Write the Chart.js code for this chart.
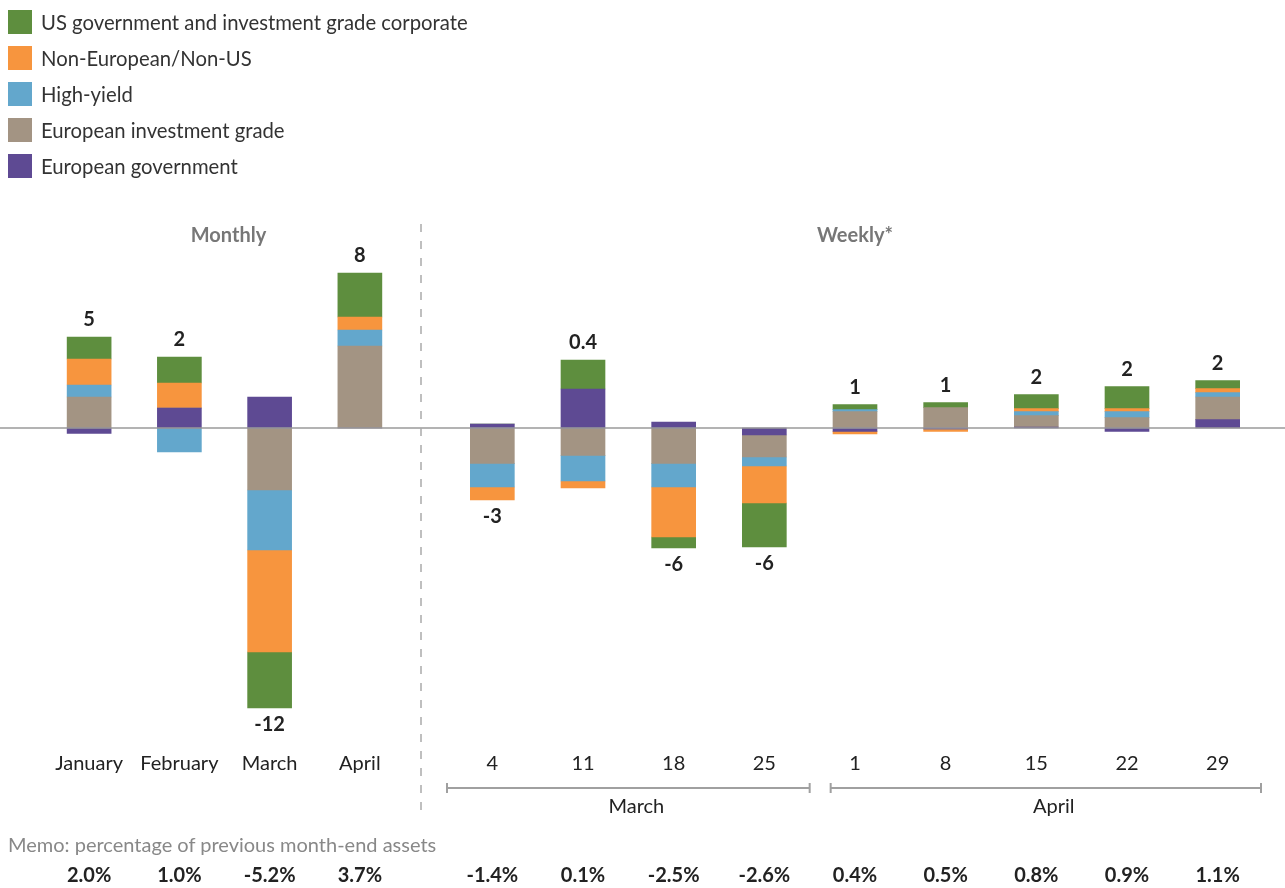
<!DOCTYPE html>
<html>
<head>
<meta charset="utf-8">
<script src="https://cdn.jsdelivr.net/npm/chart.js@4"></script>
<style>
    body { margin: 0; background: #fff; font-family: Lato, sans-serif; }
    #page { position: relative; width: 1285px; height: 888px; overflow: hidden; }
    #legend { position: absolute; left: 8px; top: 4px; }
    .legend-item { display: flex; align-items: center; height: 36px; font-size: 20.3px; color: #333; }
    .legend-box { width: 24px; height: 24px; margin-right: 9px; }
    #memoTitle { position: absolute; left: 8px; top: 832px; font-size: 20px; line-height: 24px; color: #888; }
    #monthlyWrap { position: absolute; left: 0; top: 0; width: 420px; height: 888px; }
    #weeklyWrap { position: absolute; left: 420px; top: 0; width: 865px; height: 888px; }
</style>
</head>
<body>
<div id="page">
    <div id="monthlyWrap"><canvas id="monthlyChart"></canvas></div>
    <div id="weeklyWrap"><canvas id="weeklyChart"></canvas></div>
    <div id="legend"></div>
    <div id="memoTitle">Memo: percentage of previous month-end assets</div>
</div>
<script>
// Categories
const monthLabels = ["January", "February", "March", "April"];
const weekLabels = ["4", "11", "18", "25", "1", "8", "15", "22", "29"];
const weekGroups = ["March", "April"];
const weekGroupSizes = [4, 5];

// Monthly flows by asset class
const usGovMonthly = [1.1, 1.3, -2.8, 2.2];
const nonEuMonthly = [1.3, 1.25, -5.1, 0.65];
const highYieldMonthly = [0.6, -1.2, -3.0, 0.8];
const euIgMonthly = [1.55, 0, -3.1, 4.1];
const euGovMonthly = [-0.27, 1.0, 1.55, 0];

// Weekly flows by asset class
const usGovWeekly = [0, 1.45, -0.55, -2.2, 0.25, 0.25, 0.7, 1.1, 0.4];
const nonEuWeekly = [-0.65, -0.35, -2.5, -1.85, -0.12, -0.12, 0.15, 0.15, 0.2];
const highYieldWeekly = [-1.18, -1.28, -1.18, -0.45, 0.1, 0, 0.2, 0.3, 0.22];
const euIgWeekly = [-1.77, -1.37, -1.77, -1.1, 0.82, 1.02, 0.57, 0.52, 1.13];
const euGovWeekly = [0.2, 1.95, 0.3, -0.35, -0.17, -0.05, 0.05, -0.17, 0.42];

// Total labels and memo row
const monthTotals = ["5", "2", "-12", "8"];
const weekTotals = ["-3", "0.4", "-6", "-6", "1", "1", "2", "2", "2"];
const monthMemo = ["2.0%", "1.0%", "-5.2%", "3.7%"];
const weekMemo = ["-1.4%", "0.1%", "-2.5%", "-2.6%", "0.4%", "0.5%", "0.8%", "0.9%", "1.1%"];

// Series (stack order from zero outwards)
const seriesNames = ["European government", "European investment grade", "High-yield",
    "Non-European/Non-US", "US government and investment grade corporate"];
const seriesColors = ["#5e4a93", "#a39483", "#63a7cc", "#f7953e", "#5e8e3e"];

Chart.defaults.font.family = "Lato, sans-serif";
Chart.defaults.font.size = 20;
Chart.defaults.color = "#222";

// legend (top-left, reversed order)
const legendEl = document.getElementById("legend");
for (let i = seriesNames.length - 1; i >= 0; i--) {
    const item = document.createElement("div");
    item.className = "legend-item";
    item.innerHTML = `<span class="legend-box" style="background:${seriesColors[i]}"></span>${seriesNames[i]}`;
    legendEl.appendChild(item);
}

// Draws zero line, totals, titles, memo row, brackets
const extrasPlugin = {
    id: "extras",
    afterDatasetsDraw(chart, args, opts) {
        const ctx = chart.ctx;
        const x = chart.scales.x;
        const y = chart.scales.y;
        const area = chart.chartArea;
        const zeroY = y.getPixelForValue(0);
        ctx.save();

        // zero line
        ctx.strokeStyle = "#9a9a9a";
        ctx.lineWidth = 1.5;
        ctx.beginPath();
        ctx.moveTo(0, zeroY);
        ctx.lineTo(chart.width, zeroY);
        ctx.stroke();

        // totals above/below the stacks
        ctx.font = "bold 20px Lato";
        ctx.fillStyle = "#222";
        ctx.textAlign = "center";
        ctx.textBaseline = "middle";
        opts.totals.forEach((label, i) => {
            let pos = 0, neg = 0;
            chart.data.datasets.forEach(ds => {
                const v = ds.data[i];
                if (v > 0) pos += v; else neg += v;
            });
            const cx = x.getPixelForValue(i);
            if (parseFloat(label) >= 0) {
                ctx.fillText(label, cx, y.getPixelForValue(pos) - 17);
            } else {
                ctx.fillText(label, cx, y.getPixelForValue(neg) + 17);
            }
        });

        // panel title
        ctx.font = "bold 20px Lato";
        ctx.fillStyle = "#777";
        ctx.fillText(opts.title, (area.left + area.right) / 2 + opts.titleShift, 236);

        // memo row
        ctx.font = "bold 20px Lato";
        ctx.fillStyle = "#222";
        opts.memo.forEach((m, i) => {
            ctx.fillText(m, x.getPixelForValue(i), 876);
        });

        // month brackets under weekly ticks
        if (opts.groups) {
            const step = x.getPixelForValue(1) - x.getPixelForValue(0);
            let start = 0;
            opts.groups.forEach((g, gi) => {
                const first = start;
                const last = start + opts.groupSizes[gi] - 1;
                const x0 = x.getPixelForValue(first) - step / 2 + (gi > 0 ? 21 : 0);
                const x1 = x.getPixelForValue(last) + step / 2 - (gi > 0 ? 2 : 0);
                ctx.strokeStyle = "#a0a0a0";
                ctx.lineWidth = 2;
                ctx.beginPath();
                ctx.moveTo(x0, 788);
                ctx.lineTo(x1, 788);
                ctx.moveTo(x0, 783);
                ctx.lineTo(x0, 793);
                ctx.moveTo(x1, 783);
                ctx.lineTo(x1, 793);
                ctx.stroke();
                ctx.font = "20px Lato";
                ctx.fillStyle = "#222";
                ctx.fillText(g, (x0 + x1) / 2 + 8, 807);
                start += opts.groupSizes[gi];
            });
        }

        // dashed divider between panels
        if (opts.divider) {
            ctx.strokeStyle = "#aaaaaa";
            ctx.lineWidth = 1.5;
            ctx.setLineDash([8, 9]);
            ctx.beginPath();
            ctx.moveTo(1, 224);
            ctx.lineTo(1, 812);
            ctx.stroke();
        }
        ctx.restore();
    }
};

function buildChart(canvasId, labels, series, extras, padLeft, padRight) {
    const datasets = series.map((data, i) => ({
        label: seriesNames[i],
        data: data,
        backgroundColor: seriesColors[i],
        borderWidth: 0,
        barThickness: 44
    }));

    return new Chart(document.getElementById(canvasId), {
        type: "bar",
        data: { labels: labels, datasets: datasets },
        options: {
            responsive: true,
            maintainAspectRatio: false,
            animation: false,
            layout: { padding: { left: padLeft, right: padRight, top: 228, bottom: 88 } },
            plugins: {
                legend: { display: false },
                tooltip: { enabled: false },
                extras: extras
            },
            scales: {
                x: {
                    stacked: true,
                    grid: { display: false, drawTicks: false },
                    border: { display: false },
                    ticks: { padding: 24, color: "#222", font: { size: 20 } }
                },
                y: {
                    stacked: true,
                    display: false,
                    min: -15,
                    max: 10
                }
            }
        },
        plugins: [extrasPlugin]
    });
}

buildChart("monthlyChart", monthLabels,
    [euGovMonthly, euIgMonthly, highYieldMonthly, nonEuMonthly, usGovMonthly],
    { title: "Monthly", titleShift: 4, totals: monthTotals, memo: monthMemo }, 44, 15);

buildChart("weeklyChart", weekLabels,
    [euGovWeekly, euIgWeekly, highYieldWeekly, nonEuWeekly, usGovWeekly],
    {
        title: "Weekly*", titleShift: 0, totals: weekTotals, memo: weekMemo,
        groups: weekGroups, groupSizes: weekGroupSizes, divider: true
    }, 27, 22);
</script>
</body>
</html>
